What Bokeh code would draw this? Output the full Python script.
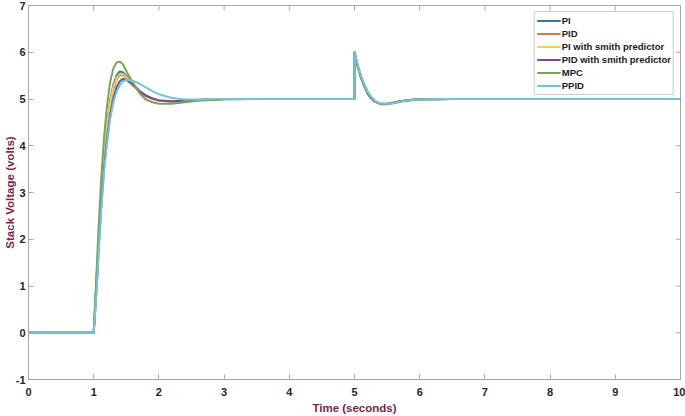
import math
from bokeh.plotting import figure
from bokeh.models import (Range1d, Legend, LegendItem, FixedTicker,
                          GlobalInlineStyleSheet)
from bokeh.embed import file_html
from bokeh.resources import INLINE

# ---------------- data ----------------
time = [0, 1.0, 1.02, 1.05, 1.08, 1.12, 1.16, 1.2, 1.25, 1.3, 1.35, 1.4, 1.45, 1.5,
        1.6, 1.7, 1.8, 1.9, 2.0, 2.2, 2.4, 2.6, 2.8, 3.0, 3.5, 4.0, 5.0, 5.0,
        5.05, 5.1, 5.15, 5.2, 5.25, 5.3, 5.35, 5.4, 5.45, 5.5,
        5.6, 5.7, 5.8, 5.9, 6.0, 6.5, 7.0, 10.0]

pi_v = [0, 0, 0.5, 1.3, 2.1, 3.0, 3.8, 4.4, 4.95, 5.3, 5.5, 5.59, 5.57, 5.5,
        5.33, 5.18, 5.08, 5.01, 4.97, 4.95, 4.96, 4.98, 4.99, 5.0, 5.0, 5.0, 5.0, 6.0,
        5.70, 5.46, 5.28, 5.13, 5.03, 4.96, 4.92, 4.90, 4.895, 4.90,
        4.92, 4.95, 4.97, 4.985, 4.995, 5.0, 5.0, 5.0]

pid_v = [0, 0, 0.5, 1.3, 2.1, 3.0, 3.75, 4.3, 4.85, 5.2, 5.42, 5.52, 5.51, 5.45,
         5.3, 5.16, 5.06, 5.0, 4.96, 4.94, 4.96, 4.98, 4.99, 5.0, 5.0, 5.0, 5.0, 6.0,
         5.72, 5.49, 5.31, 5.16, 5.05, 4.97, 4.92, 4.89, 4.88, 4.885,
         4.91, 4.94, 4.965, 4.98, 4.99, 5.0, 5.0, 5.0]

pi_smith_v = [0, 0, 0.5, 1.3, 2.1, 3.0, 3.8, 4.38, 4.9, 5.25, 5.45, 5.54, 5.53, 5.47,
              5.32, 5.18, 5.07, 5.0, 4.96, 4.95, 4.96, 4.98, 4.99, 5.0, 5.0, 5.0, 5.0, 6.0,
              5.71, 5.48, 5.30, 5.15, 5.04, 4.97, 4.92, 4.895, 4.89, 4.895,
              4.915, 4.945, 4.97, 4.985, 4.995, 5.0, 5.0, 5.0]

pid_smith_v = [0, 0, 0.4, 1.1, 1.9, 2.8, 3.55, 4.1, 4.65, 5.0, 5.25, 5.38, 5.43, 5.41,
               5.3, 5.17, 5.07, 5.01, 4.97, 4.95, 4.96, 4.98, 4.99, 5.0, 5.0, 5.0, 5.0, 6.0,
               5.69, 5.45, 5.27, 5.12, 5.02, 4.96, 4.92, 4.905, 4.90, 4.905,
               4.925, 4.95, 4.97, 4.985, 4.995, 5.0, 5.0, 5.0]

mpc_v = [0, 0, 0.6, 1.5, 2.4, 3.4, 4.2, 4.8, 5.35, 5.65, 5.78, 5.80, 5.74, 5.6,
         5.35, 5.13, 4.99, 4.93, 4.90, 4.90, 4.93, 4.96, 4.98, 4.99, 5.0, 5.0, 5.0, 6.0,
         5.70, 5.47, 5.29, 5.14, 5.04, 4.97, 4.925, 4.90, 4.895, 4.90,
         4.92, 4.945, 4.97, 4.985, 4.995, 5.0, 5.0, 5.0]

ppid_v = [0, 0, 0.35, 1.0, 1.8, 2.7, 3.45, 4.0, 4.55, 4.92, 5.15, 5.3, 5.38, 5.41,
          5.39, 5.33, 5.25, 5.17, 5.10, 5.02, 4.99, 4.99, 5.0, 5.0, 5.0, 5.0, 5.0, 6.0,
          5.72, 5.49, 5.31, 5.16, 5.06, 4.98, 4.93, 4.91, 4.90, 4.90,
          4.915, 4.94, 4.965, 4.98, 4.99, 5.0, 5.0, 5.0]

series_names = ["PI", "PID", "PI with smith predictor", "PID with smith predictor", "MPC", "PPID"]
series_values = [pi_v, pid_v, pi_smith_v, pid_smith_v, mpc_v, ppid_v]
series_colors = ["#3a7398", "#cf7a52", "#e9d35c", "#7c4a8e", "#7aa557", "#72c4d6"]

x_ticks = [0, 1, 2, 3, 4, 5, 6, 7, 8, 9, 10]
y_ticks = [-1, 0, 1, 2, 3, 4, 5, 6, 7]

# ---------------- figure ----------------
FONT = "Liberation Sans"
AX_COLOR = "#a8a8a8"
LABEL_COLOR = "#7b2346"
TICK_LABEL_COLOR = "#262626"

p = figure(frame_width=652, frame_height=374,
           x_range=Range1d(0, 10), y_range=Range1d(-1, 7),
           output_backend="svg", toolbar_location=None,
           min_border_left=27, min_border_top=5, min_border_right=5, min_border_bottom=37)
p.stylesheets = [GlobalInlineStyleSheet(css="html, body { margin: 0 !important; padding: 0 !important; overflow: hidden; }")]
p.grid.visible = False
p.outline_line_color = AX_COLOR
p.background_fill_color = "white"
p.border_fill_color = "white"

def style_axis(ax, ticks):
    ax.ticker = FixedTicker(ticks=ticks)
    ax.major_tick_in = 5
    ax.major_tick_out = 0
    ax.minor_tick_line_color = None
    ax.axis_line_color = AX_COLOR
    ax.major_tick_line_color = AX_COLOR
    ax.major_label_text_font = FONT
    ax.major_label_text_font_style = "bold"
    ax.major_label_text_font_size = "11px"
    ax.major_label_text_color = TICK_LABEL_COLOR
    ax.axis_label_text_font = FONT
    ax.axis_label_text_font_style = "bold"
    ax.axis_label_text_font_size = "11.5px"
    ax.axis_label_text_color = LABEL_COLOR

xa = p.xaxis[0]
ya = p.yaxis[0]
style_axis(xa, x_ticks)
style_axis(ya, y_ticks)
ya.major_label_overrides = {-1: "-1"}
xa.major_label_standoff = 8
ya.major_label_standoff = 3
xa.axis_label = "Time (seconds)"
ya.axis_label = "Stack Voltage (volts)"
xa.axis_label_standoff = 3
ya.axis_label_standoff = -3

# inward tick marks on the top and right edges of the box
n_x = len(x_ticks)
n_y = len(y_ticks)
p.scatter(x=x_ticks, y=[p.y_range.end] * n_x, marker="dash", angle=math.pi / 2,
          size=10, line_color=AX_COLOR, line_width=1)
p.scatter(x=[p.x_range.end] * n_y, y=y_ticks, marker="dash",
          size=10, line_color=AX_COLOR, line_width=1)

items = []
for name, vals, col in zip(series_names, series_values, series_colors):
    r = p.line(time, vals, line_color=col, line_width=2, line_join="round")
    items.append(LegendItem(label=name, renderers=[r]))

legend = Legend(items=items, location="top_right")
legend.label_text_font = FONT
legend.label_text_font_style = "bold"
legend.label_text_font_size = "9.5px"
legend.label_text_color = "#1a1a1a"
legend.glyph_width = 24
legend.glyph_height = 13
legend.label_height = 13
legend.label_standoff = 1
legend.spacing = 0
legend.padding = 2
legend.margin = 6
legend.border_line_color = "#9a9a9a"
legend.border_line_width = 1
legend.background_fill_alpha = 1
p.add_layout(legend)

open("out.html", "w").write(file_html(p, INLINE))
